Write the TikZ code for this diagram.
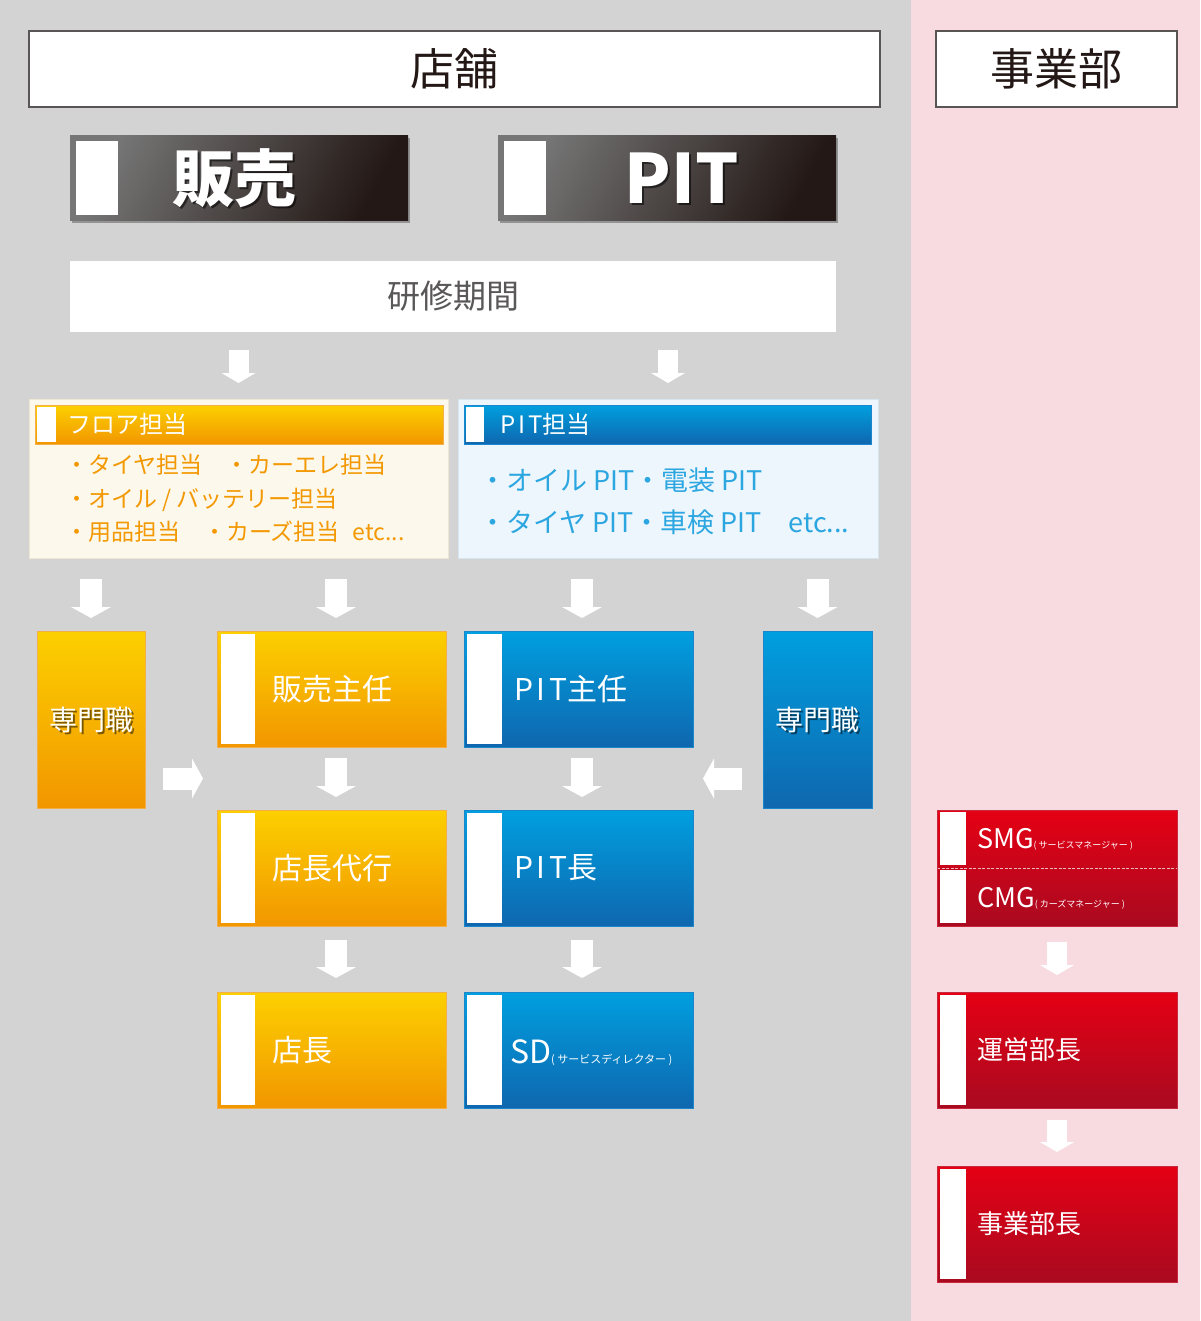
\documentclass[tikz,border=0pt]{standalone}
\usepackage{fontspec}
\setmainfont{Noto Sans CJK JP}
\usetikzlibrary{arrows.meta,shadows,calc}
\definecolor{bggray}{HTML}{D3D3D3}
\definecolor{bgpink}{HTML}{F7DBE1}
\definecolor{titletext}{HTML}{231815}
\definecolor{frame}{HTML}{5A5555}
\definecolor{kenshutext}{HTML}{595757}
\definecolor{orT}{HTML}{FCD000}
\definecolor{orB}{HTML}{F29600}
\definecolor{orLine}{HTML}{F4B048}
\definecolor{blT}{HTML}{009FDF}
\definecolor{blB}{HTML}{0F67AF}
\definecolor{blLine}{HTML}{1C86CC}
\definecolor{rdT}{HTML}{E50014}
\definecolor{rdB}{HTML}{A90A20}
\definecolor{rdLine}{HTML}{C8283C}
\definecolor{cream}{HTML}{FCF8EC}
\definecolor{creamline}{HTML}{EEE6D2}
\definecolor{paleblue}{HTML}{EDF6FC}
\definecolor{palebline}{HTML}{D6E6F0}
\definecolor{ortext}{HTML}{F39800}
\definecolor{bltext}{HTML}{2CA6E0}
\definecolor{darkL}{HTML}{767676}
\definecolor{darkM}{HTML}{2E2725}
\definecolor{darkR}{HTML}{231815}
\definecolor{dashpink}{HTML}{F2B6BF}
\newcommand\myfs[1]{\fontsize{#1pt}{#1pt}\selectfont}
\begin{document}
\begin{tikzpicture}[x=1pt,y=-1pt,
  every node/.style={inner sep=0pt, outer sep=0pt},
  rect/.style={anchor=north west, rectangle},
  headbox/.style={rect, fill=white, draw=frame, line width=1.2pt, text=titletext, font=\myfs{44}},
  darkbar/.style={rect, left color=darkL, middle color=darkM, right color=darkR, shading angle=62,
    drop shadow={shadow xshift=1.5pt, shadow yshift=-2pt, opacity=.3, fill=black},
    path picture={\fill[white] ([xshift=6pt,yshift=-5pt]path picture bounding box.north west) rectangle ([xshift=48pt,yshift=6pt]path picture bounding box.south west);}},
  bartxt/.style={text=white, font=\bfseries\myfs{62}},
  barshadow/.style={text=black, opacity=.55, font=\bfseries\myfs{62}},
  orfill/.style={rect, top color=orT, bottom color=orB, draw=orLine, line width=.8pt},
  blfill/.style={rect, top color=blT, bottom color=blB, draw=blLine, line width=.8pt},
  rdfill/.style={rect, top color=rdT, bottom color=rdB, draw=rdLine, line width=.8pt},
  orbox/.style={orfill, path picture={\fill[white] ([xshift=4pt,yshift=-3pt]path picture bounding box.north west) rectangle ([xshift=38pt,yshift=3pt]path picture bounding box.south west);}},
  blbox/.style={blfill, path picture={\fill[white] ([xshift=3pt,yshift=-3pt]path picture bounding box.north west) rectangle ([xshift=38pt,yshift=3pt]path picture bounding box.south west);}},
  rdbox/.style={rdfill, path picture={\fill[white] ([xshift=3pt,yshift=-3pt]path picture bounding box.north west) rectangle ([xshift=29pt,yshift=3pt]path picture bounding box.south west);}},
  smgbox/.style={rdfill, path picture={
      \fill[white] ([xshift=3pt,yshift=-2pt]path picture bounding box.north west) rectangle ([xshift=29pt,yshift=3pt]path picture bounding box.west);
      \fill[white] ([xshift=3pt,yshift=-2pt]path picture bounding box.west) rectangle ([xshift=29pt,yshift=3pt]path picture bounding box.south west);
      \draw[dashpink, line width=1pt, dash pattern=on 3pt off 1.5pt] (path picture bounding box.west) -- (path picture bounding box.east);}},
  orhead/.style={rect, top color=orT, bottom color=orB, draw=orLine, line width=.6pt,
    path picture={\fill[white] ([xshift=2pt,yshift=-2pt]path picture bounding box.north west) rectangle ([xshift=21pt,yshift=2pt]path picture bounding box.south west);}},
  blhead/.style={rect, top color=blT, bottom color=blB, draw=blLine, line width=.6pt,
    path picture={\fill[white] ([xshift=2pt,yshift=-2pt]path picture bounding box.north west) rectangle ([xshift=20pt,yshift=2pt]path picture bounding box.south west);}},
  headtxt/.style={anchor=west, text=white, font=\myfs{24}},
  boxtxt/.style={anchor=west, text=white, font=\myfs{30}},
  redtxt/.style={anchor=west, text=white, font=\myfs{26}},
  smtxt/.style={text=white, font=\myfs{28}},
  smshadow/.style={text=black, opacity=.5, font=\myfs{28}},
  wa/.style={draw=white, line width=22pt, line cap=butt, -{Triangle[width=40pt,length=11pt,line width=0pt]}},
  was/.style={draw=white, line width=20pt, line cap=butt, -{Triangle[width=34pt,length=10pt,line width=0pt]}}
]
% backgrounds
\fill[bggray] (0,0) rectangle (911,1321);
\fill[bgpink] (911,0) rectangle (1200,1321);
\useasboundingbox (0,0) rectangle (1200,1321);

% titles
\node[headbox, minimum width=851, minimum height=76] (tenpo) at (29,31) {店舗};
\node[headbox, minimum width=241, minimum height=76] (jigyo) at (936,31) {事業部};

% dark bars
\node[darkbar, minimum width=338, minimum height=85] (hanbai) at (70,136) {};
\node[barshadow] (hanbai-s) at ([xshift=-3pt,yshift=-2pt]hanbai.center) {販売};
\node[bartxt] (hanbai-t) at ([xshift=-5pt]hanbai.center) {販売};
\node[darkbar, minimum width=338, minimum height=85] (pitbar) at (498,136) {};
\node[barshadow, font=\bfseries\myfs{68}] (pitbar-s) at ([xshift=17pt,yshift=-2pt]pitbar.center) {PIT};
\node[bartxt, font=\bfseries\myfs{68}] (pitbar-t) at ([xshift=15pt]pitbar.center) {PIT};

% kenshu
\node[rect, fill=white, minimum width=766, minimum height=71, text=kenshutext, font=\myfs{33}] (kenshu) at (70,261) {研修期間};

% category boxes
\node[rect, fill=cream, draw=creamline, line width=.6pt, minimum width=419, minimum height=159] (floor) at (29,399) {};
\node[orhead, minimum width=408, minimum height=39] (floorhead) at (35,405) {};
\node[headtxt] (floorhead-t) at ([xshift=32pt]floorhead.west) {フロア担当};
\node[anchor=west, align=left, text=ortext, font=\fontsize{23pt}{33.5pt}\selectfont] (floor-list) at (65,498.5)
  {・タイヤ担当　・カーエレ担当\\・オイル / バッテリー担当\\・用品担当　・カーズ担当\hspace{13pt}etc...};

\node[rect, fill=paleblue, draw=palebline, line width=.6pt, minimum width=420, minimum height=159] (pitbox) at (458,399) {};
\node[blhead, minimum width=407, minimum height=39] (pithead) at (464,405) {};
\node[headtxt] (pithead-t) at ([xshift=36pt]pithead.west) {P\kern3pt I\kern3pt T担当};
\node[anchor=west, align=left, text=bltext, font=\fontsize{27pt}{42pt}\selectfont] (pit-list) at (479,501)
  {・オイル PIT・電装 PIT\\・タイヤ PIT・車検 PIT　etc...};

% row 1
\node[orfill, minimum width=108, minimum height=177] (senmon1) at (37,631) {};
\node[smshadow] (senmon1-s) at ([xshift=2pt,yshift=-2pt]senmon1.center) {専門職};
\node[smtxt] (senmon1-t) at (senmon1.center) {専門職};
\node[orbox, minimum width=229, minimum height=116] (hanshu) at (217,631) {};
\node[boxtxt] (hanshu-t) at ([xshift=55pt]hanshu.west) {販売主任};
\node[blbox, minimum width=229, minimum height=116] (pitshu) at (464,631) {};
\node[boxtxt] (pitshu-t) at ([xshift=50pt]pitshu.west) {P\kern4pt I\kern4pt T主任};
\node[blfill, minimum width=109, minimum height=177] (senmon2) at (763,631) {};
\node[smshadow] (senmon2-s) at ([xshift=2pt,yshift=-2pt]senmon2.center) {専門職};
\node[smtxt] (senmon2-t) at (senmon2.center) {専門職};

% row 2
\node[orbox, minimum width=229, minimum height=116] (daiko) at (217,810) {};
\node[boxtxt] (daiko-t) at ([xshift=55pt]daiko.west) {店長代行};
\node[blbox, minimum width=229, minimum height=116] (pitcho) at (464,810) {};
\node[boxtxt] (pitcho-t) at ([xshift=50pt]pitcho.west) {P\kern4pt I\kern4pt T長};
\node[smgbox, minimum width=240, minimum height=116] (smg) at (937,810) {};
\node[redtxt, font=\myfs{27}] (smg-t) at ([xshift=40pt,yshift=29pt]smg.west) {SMG{\myfs{9}( サービスマネージャー )}};
\node[redtxt, font=\myfs{27}] (cmg-t) at ([xshift=40pt,yshift=-30pt]smg.west) {CMG{\myfs{9}( カーズマネージャー )}};

% row 3
\node[orbox, minimum width=229, minimum height=116] (tencho) at (217,992) {};
\node[boxtxt] (tencho-t) at ([xshift=55pt]tencho.west) {店長};
\node[blbox, minimum width=229, minimum height=116] (sd) at (464,992) {};
\node[boxtxt, font=\myfs{32}] (sd-t) at ([xshift=46pt,yshift=-3pt]sd.west) {SD{\myfs{11}( サービスディレクター )}};
\node[rdbox, minimum width=240, minimum height=116] (unei) at (937,992) {};
\node[redtxt] (unei-t) at ([xshift=40pt]unei.west) {運営部長};

% row 4
\node[rdbox, minimum width=240, minimum height=116] (jigyocho) at (937,1166) {};
\node[redtxt] (jigyocho-t) at ([xshift=40pt]jigyocho.west) {事業部長};

% helper coordinates
\coordinate (gapL) at ($(hanshu.south)!0.5!(daiko.north)$);
\coordinate (gapR) at ($(pitshu.south)!0.5!(pitcho.north)$);

% arrows
\draw[was, shorten <=18pt, shorten >=16pt] (floor.north |- kenshu.south) -- (floor.north);
\draw[was, shorten <=18pt, shorten >=16pt] (pitbox.north |- kenshu.south) -- (pitbox.north);
\draw[wa, shorten <=21pt, shorten >=13pt] (senmon1.north |- floor.south) -- (senmon1.north);
\draw[wa, shorten <=21pt, shorten >=13pt] ([xshift=4.5pt]hanshu.north |- floor.south) -- ([xshift=4.5pt]hanshu.north);
\draw[wa, shorten <=21pt, shorten >=13pt] ([xshift=3.5pt]pitshu.north |- pitbox.south) -- ([xshift=3.5pt]pitshu.north);
\draw[wa, shorten <=21pt, shorten >=13pt] (senmon2.north |- pitbox.south) -- (senmon2.north);
\draw[wa, shorten <=11pt, shorten >=13pt] ([xshift=4.5pt]hanshu.south) -- ([xshift=4.5pt]daiko.north);
\draw[wa, shorten <=11pt, shorten >=13pt] ([xshift=3.5pt]pitshu.south) -- ([xshift=3.5pt]pitcho.north);
\draw[wa, shorten <=14pt, shorten >=14pt] ([xshift=4.5pt]daiko.south) -- ([xshift=4.5pt]tencho.north);
\draw[wa, shorten <=14pt, shorten >=14pt] ([xshift=3.5pt]pitcho.south) -- ([xshift=3.5pt]sd.north);
\draw[wa, shorten <=18pt, shorten >=14pt] (senmon1.east |- gapL) -- (daiko.west |- gapL);
\draw[wa, shorten <=21pt, shorten >=10pt] (senmon2.west |- gapR) -- (pitshu.east |- gapR);
\draw[was, shorten <=16pt, shorten >=17pt] (smg.south) -- (unei.north);
\draw[was, shorten <=12pt, shorten >=14pt] (unei.south) -- (jigyocho.north);
\end{tikzpicture}
\end{document}
